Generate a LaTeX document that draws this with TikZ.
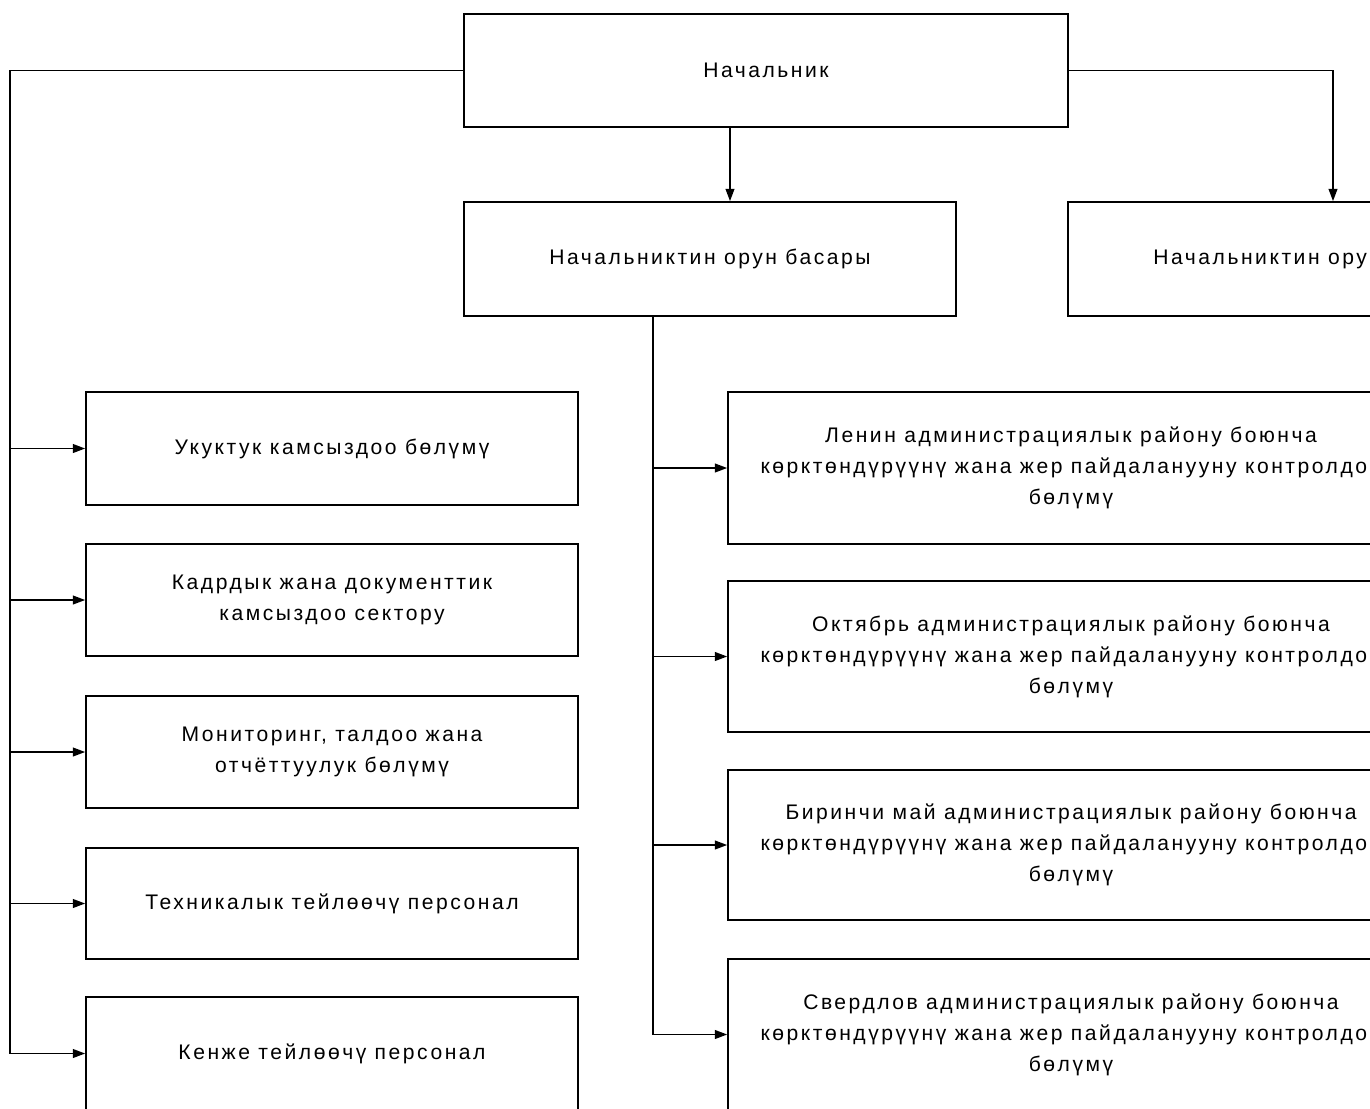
\documentclass[tikz,border=0pt]{standalone}
\usepackage{fontspec}
\setmainfont{Liberation Sans}[LetterSpace=12]
\usetikzlibrary{arrows.meta}
\tikzset{
  box/.style={draw=black, line width=1pt, rectangle, inner sep=0pt, align=center,
    font=\fontsize{12}{17.6}\selectfont},
  arr/.style={line width=0.9pt, -{Triangle[length=7pt,width=5pt]}},
  ln/.style={line width=0.9pt}
}
\begin{document}
\begin{tikzpicture}[x=0.02cm,y=-0.02cm]
\path[use as bounding box, clip] (0,0) rectangle (1370,1109);
\fill[white] (0,0) rectangle (1370,1109);
% top
\node[box, minimum width=12.08cm, minimum height=2.26cm] (boss) at (766,70.5) {Начальник};
\node[box, minimum width=9.84cm, minimum height=2.28cm] (dep1) at (710,259) {Начальниктин орун басары};
\node[box, minimum width=9.84cm, minimum height=2.28cm] (dep2) at (1314,259) {Начальниктин орун басары};
% left column
\node[box, minimum width=9.84cm, minimum height=2.26cm] (L1) at (332,448.5) {Укуктук камсыздоо бөлүмү};
\node[box, minimum width=9.84cm, minimum height=2.24cm] (L2) at (332,600) {Кадрдык жана документтик\\камсыздоо сектору};
\node[box, minimum width=9.84cm, minimum height=2.24cm] (L3) at (332,752) {Мониторинг, талдоо жана\\отчёттуулук бөлүмү};
\node[box, minimum width=9.84cm, minimum height=2.22cm] (L4) at (332,903.5) {Техникалык тейлөөчү персонал};
\node[box, minimum width=9.84cm, minimum height=2.26cm] (L5) at (332,1053.5) {Кенже тейлөөчү персонал};
% right column
\node[box, minimum width=13.72cm, minimum height=3.04cm] (R1) at (1071,468) {Ленин администрациялык району боюнча\\көрктөндүрүүнү жана жер пайдаланууну контролдоо\\бөлүмү};
\node[box, minimum width=13.72cm, minimum height=3.02cm] (R2) at (1071,656.5) {Октябрь администрациялык району боюнча\\көрктөндүрүүнү жана жер пайдаланууну контролдоо\\бөлүмү};
\node[box, minimum width=13.72cm, minimum height=3.00cm] (R3) at (1071,845) {Биринчи май администрациялык району боюнча\\көрктөндүрүүнү жана жер пайдаланууну контролдоо\\бөлүмү};
\node[box, minimum width=13.72cm, minimum height=3.02cm] (R4) at (1071,1034.5) {Свердлов администрациялык району боюнча\\көрктөндүрүүнү жана жер пайдаланууну контролдоо\\бөлүмү};
% spine coordinates
\coordinate (sl) at (10,0);
\coordinate (sc) at (653,0);
\coordinate (ta) at (730,0);
\coordinate (tb) at (1333,0);
% connectors
\draw[arr] (boss.south -| ta) -- (dep1.north -| ta);
\draw[arr] (boss.east) -| (dep2.north -| tb);
\draw[ln] (boss.west) -| (L5.west -| sl);
\foreach \n in {L1,L2,L3,L4,L5} \draw[arr] (\n.west -| sl) -- (\n.west);
\draw[ln] (dep1.south -| sc) -- (R4.west -| sc);
\foreach \n in {R1,R2,R3,R4} \draw[arr] (\n.west -| sc) -- (\n.west);
\end{tikzpicture}
\end{document}
